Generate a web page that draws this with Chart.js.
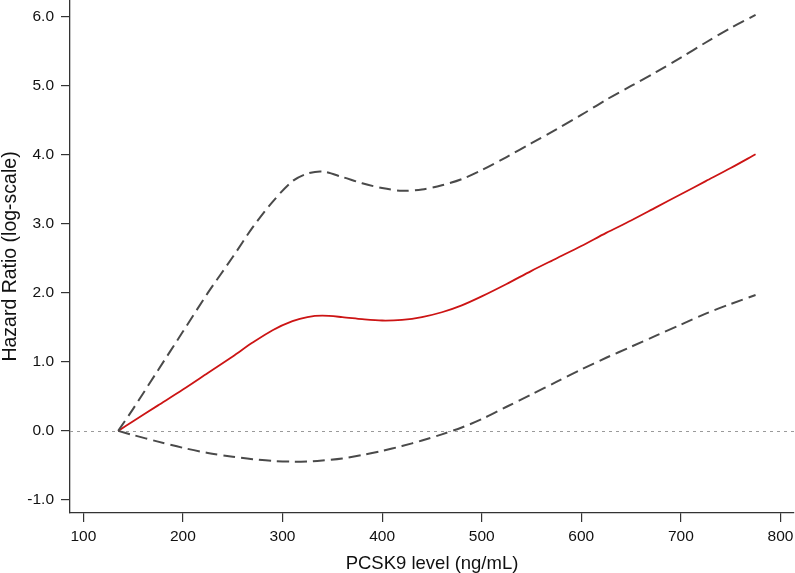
<!DOCTYPE html>
<html>
<head>
<meta charset="utf-8">
<script src="https://cdn.jsdelivr.net/npm/chart.js@4"></script>
<style>
html,body{margin:0;padding:0;background:#fff;}
canvas{display:block;}
</style>
</head>
<body>
<canvas id="c" width="795" height="573"></canvas>
<script>
// PCSK9 level (ng/mL)
const pcsk9 = [135,150,175,200,225,250,270,290,310,325,340,360,380,400,420,440,460,480,500,525,550,575,600,625,650,675,700,725,750,775];
// Hazard ratio (log-scale), point estimate
const hrEstimate = [0,0.14,0.37,0.60,0.84,1.08,1.28,1.46,1.59,1.65,1.67,1.65,1.62,1.60,1.61,1.65,1.72,1.82,1.95,2.13,2.32,2.50,2.68,2.87,3.05,3.24,3.43,3.62,3.81,4.01];
// Upper 95% confidence bound
const ciUpper = [0,0.32,0.88,1.44,2.00,2.52,2.95,3.32,3.62,3.73,3.76,3.68,3.59,3.52,3.48,3.50,3.56,3.65,3.78,3.97,4.17,4.37,4.58,4.80,5.00,5.20,5.41,5.63,5.84,6.03];
// Lower 95% confidence bound
const ciLower = [0,-0.06,-0.155,-0.245,-0.32,-0.375,-0.41,-0.435,-0.445,-0.445,-0.43,-0.40,-0.35,-0.29,-0.22,-0.14,-0.05,0.05,0.17,0.35,0.53,0.71,0.89,1.06,1.22,1.38,1.54,1.70,1.84,1.97];
const xTickValues = [100,200,300,400,500,600,700,800];
const yTickValues = [-1,0,1,2,3,4,5,6];
const referenceY = 0;
const xRange = [86.6, 813.6];
const yRange = [-1.19, 6.246];

const pts = (ys) => pcsk9.map((x, i) => ({x: x, y: ys[i]}));
const FONT = "'Liberation Sans', Arial, Helvetica, sans-serif";

const refLine = {
  id: 'refLine',
  beforeDatasetsDraw(chart) {
    const {ctx, chartArea, scales} = chart;
    const py = Math.round(scales.y.getPixelForValue(referenceY)) + 0.5;
    ctx.save();
    ctx.strokeStyle = '#9a9a9a';
    ctx.lineWidth = 1;
    ctx.setLineDash([3, 4]);
    ctx.beginPath();
    ctx.moveTo(chartArea.left, py);
    ctx.lineTo(chartArea.right, py);
    ctx.stroke();
    ctx.restore();
  }
};

new Chart(document.getElementById('c'), {
  type: 'line',
  data: {
    datasets: [
      {label: 'Upper', data: pts(ciUpper), borderColor: '#4a4a4a', borderWidth: 2, borderDash: [12, 6], pointRadius: 0, tension: 0.3, fill: false},
      {label: 'Lower', data: pts(ciLower), borderColor: '#4a4a4a', borderWidth: 2, borderDash: [12, 6], pointRadius: 0, tension: 0.3, fill: false},
      {label: 'HR', data: pts(hrEstimate), borderColor: '#cc1414', borderWidth: 1.8, pointRadius: 0, tension: 0.3, fill: false}
    ]
  },
  options: {
    responsive: false,
    animation: false,
    devicePixelRatio: 1,
    layout: {padding: {top: 0, right: 1, left: 0, bottom: 0}},
    plugins: {legend: {display: false}, tooltip: {enabled: false}},
    scales: {
      x: {
        type: 'linear',
        min: xRange[0], max: xRange[1],
        afterBuildTicks: (s) => { s.ticks = xTickValues.map(v => ({value: v})); },
        afterFit: (s) => { s.height = 60; s.paddingLeft = 0; s.paddingRight = 0; },
        grid: {display: true, drawOnChartArea: false, drawTicks: true, tickLength: 9, color: '#333', lineWidth: 1.2},
        border: {display: true, color: '#333', width: 1.3},
        ticks: {color: '#111', padding: 5, maxRotation: 0, autoSkip: false, font: {family: FONT, size: 15.5}, callback: (v) => String(v)},
        title: {display: true, text: 'PCSK9 level (ng/mL)', color: '#111', padding: {top: 11, bottom: 0}, font: {family: FONT, size: 18.5, lineHeight: 1}}
      },
      y: {
        type: 'linear',
        min: yRange[0], max: yRange[1],
        afterBuildTicks: (s) => { s.ticks = yTickValues.map(v => ({value: v})); },
        afterFit: (s) => { s.width = 70; s.paddingTop = 0; s.paddingBottom = 0; },
        grid: {display: true, drawOnChartArea: false, drawTicks: true, tickLength: 9, color: '#333', lineWidth: 1.2},
        border: {display: true, color: '#333', width: 1.3},
        ticks: {color: '#111', padding: 7, autoSkip: false, font: {family: FONT, size: 15.5}, callback: (v) => Number(v).toFixed(1)},
        title: {display: true, text: 'Hazard Ratio (log-scale)', color: '#111', padding: {top: 1, bottom: 0}, font: {family: FONT, size: 19.5, lineHeight: 1}}
      }
    }
  },
  plugins: [refLine]
});
</script>
</body>
</html>
